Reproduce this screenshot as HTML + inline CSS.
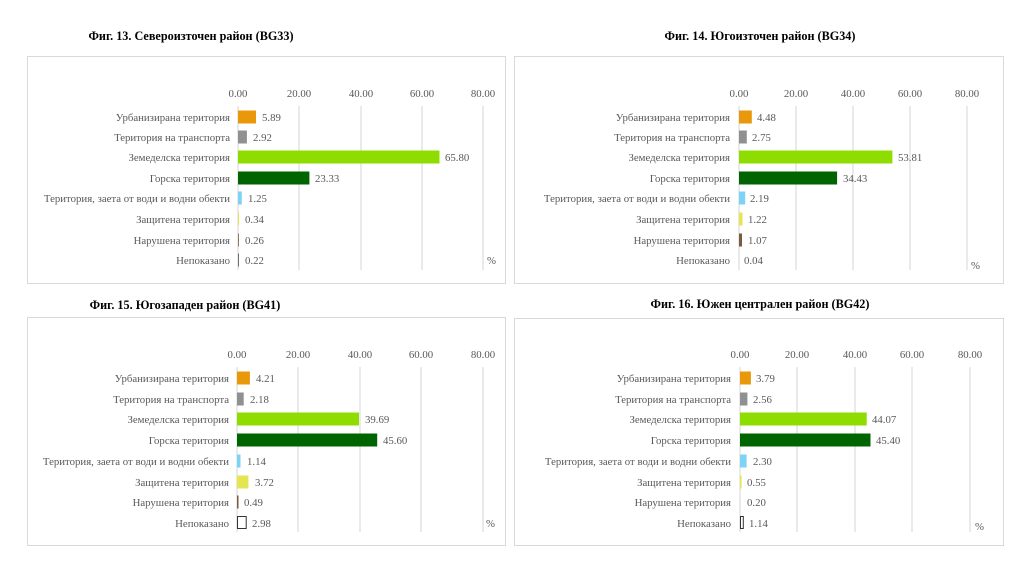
<!DOCTYPE html>
<html><head><meta charset="utf-8"><style>
html,body{margin:0;padding:0;background:#fff;}
svg{display:block;}
text{font-family:"Liberation Serif","DejaVu Serif",serif;}
.t{font-size:12.2px;font-weight:bold;fill:#000;}
.l{font-size:10.8px;fill:#595959;}
.g{stroke:#d4d4d4;stroke-width:1;}
</style></head><body>
<svg width="1026" height="577" viewBox="0 0 1026 577" xmlns="http://www.w3.org/2000/svg">
<rect width="1026" height="577" fill="#fff"/>
<!-- Panel 1 -->
<text class="t" x="191" y="40" text-anchor="middle">Фиг. 13. Североизточен район (BG33)</text>
<rect x="27.5" y="56.5" width="478" height="227" fill="none" stroke="#d9d9d9"/>
<g class="g"><line x1="299" y1="106" x2="299" y2="270"/><line x1="361" y1="106" x2="361" y2="270"/><line x1="422" y1="106" x2="422" y2="270"/><line x1="483" y1="106" x2="483" y2="270"/><line x1="238" y1="106" x2="238" y2="270"/></g>
<g class="l" text-anchor="middle"><text x="238" y="97">0.00</text><text x="299" y="97">20.00</text><text x="361" y="97">40.00</text><text x="422" y="97">60.00</text><text x="483" y="97">80.00</text></g>
<g class="l" text-anchor="end"><text x="230" y="121">Урбанизирана територия</text><text x="230" y="141">Територия на транспорта</text><text x="230" y="161">Земеделска територия</text><text x="230" y="182">Горска територия</text><text x="230" y="202">Територия, заета от води и водни обекти</text><text x="230" y="223">Защитена територия</text><text x="230" y="244">Нарушена територия</text><text x="230" y="264">Непоказано</text></g>
<rect x="238" y="110.5" width="18" height="13" fill="#E8980A"/><rect x="238" y="130.5" width="8.9" height="13" fill="#909090"/><rect x="238" y="150.5" width="201.5" height="13" fill="#8EDC00"/><rect x="238" y="171.5" width="71.4" height="13" fill="#006400"/><rect x="238" y="191.5" width="3.8" height="13" fill="#7DD3F5"/><rect x="238" y="212.5" width="1" height="13" fill="#E5E550"/><rect x="238" y="233.5" width="0.8" height="13" fill="#7a5a40"/><rect x="238" y="253.5" width="0.7" height="13" fill="#333"/>
<g class="l"><text x="262" y="121">5.89</text><text x="253" y="141">2.92</text><text x="445" y="161">65.80</text><text x="315" y="182">23.33</text><text x="248" y="202">1.25</text><text x="245" y="223">0.34</text><text x="245" y="244">0.26</text><text x="245" y="264">0.22</text><text x="487" y="264">%</text></g>
<!-- Panel 2 -->
<text class="t" x="760" y="40" text-anchor="middle">Фиг. 14. Югоизточен район (BG34)</text>
<rect x="514.5" y="56.5" width="489" height="227" fill="none" stroke="#d9d9d9"/>
<g class="g"><line x1="796" y1="106" x2="796" y2="270"/><line x1="853" y1="106" x2="853" y2="270"/><line x1="910" y1="106" x2="910" y2="270"/><line x1="967" y1="106" x2="967" y2="270"/><line x1="739" y1="106" x2="739" y2="270"/></g>
<g class="l" text-anchor="middle"><text x="739" y="97">0.00</text><text x="796" y="97">20.00</text><text x="853" y="97">40.00</text><text x="910" y="97">60.00</text><text x="967" y="97">80.00</text></g>
<g class="l" text-anchor="end"><text x="730" y="121">Урбанизирана територия</text><text x="730" y="141">Територия на транспорта</text><text x="730" y="161">Земеделска територия</text><text x="730" y="182">Горска територия</text><text x="730" y="202">Територия, заета от води и водни обекти</text><text x="730" y="223">Защитена територия</text><text x="730" y="244">Нарушена територия</text><text x="730" y="264">Непоказано</text></g>
<rect x="739" y="110.5" width="12.8" height="13" fill="#E8980A"/><rect x="739" y="130.5" width="7.8" height="13" fill="#909090"/><rect x="739" y="150.5" width="153.4" height="13" fill="#8EDC00"/><rect x="739" y="171.5" width="98.1" height="13" fill="#006400"/><rect x="739" y="191.5" width="6.2" height="13" fill="#7DD3F5"/><rect x="739" y="212.5" width="3.5" height="13" fill="#E5E550"/><rect x="739" y="233.5" width="3" height="13" fill="#7a5a40"/>
<g class="l"><text x="757" y="121">4.48</text><text x="752" y="141">2.75</text><text x="898" y="161">53.81</text><text x="843" y="182">34.43</text><text x="750" y="202">2.19</text><text x="748" y="223">1.22</text><text x="748" y="244">1.07</text><text x="744" y="264">0.04</text><text x="971" y="269">%</text></g>
<!-- Panel 3 -->
<text class="t" x="185" y="309" text-anchor="middle">Фиг. 15. Югозападен район (BG41)</text>
<rect x="27.5" y="317.5" width="478" height="228" fill="none" stroke="#d9d9d9"/>
<g class="g"><line x1="298" y1="367" x2="298" y2="532"/><line x1="360" y1="367" x2="360" y2="532"/><line x1="421" y1="367" x2="421" y2="532"/><line x1="483" y1="367" x2="483" y2="532"/><line x1="237" y1="367" x2="237" y2="532"/></g>
<g class="l" text-anchor="middle"><text x="237" y="358">0.00</text><text x="298" y="358">20.00</text><text x="360" y="358">40.00</text><text x="421" y="358">60.00</text><text x="483" y="358">80.00</text></g>
<g class="l" text-anchor="end"><text x="229" y="382">Урбанизирана територия</text><text x="229" y="403">Територия на транспорта</text><text x="229" y="423">Земеделска територия</text><text x="229" y="444">Горска територия</text><text x="229" y="465">Територия, заета от води и водни обекти</text><text x="229" y="486">Защитена територия</text><text x="229" y="506">Нарушена територия</text><text x="229" y="527">Непоказано</text></g>
<rect x="237" y="371.5" width="12.9" height="13" fill="#E8980A"/><rect x="237" y="392.5" width="6.7" height="13" fill="#909090"/><rect x="237" y="412.5" width="122" height="13" fill="#8EDC00"/><rect x="237" y="433.5" width="140.2" height="13" fill="#006400"/><rect x="237" y="454.5" width="3.5" height="13" fill="#7DD3F5"/><rect x="237" y="475.5" width="11.4" height="13" fill="#E5E550"/><rect x="237" y="495.5" width="1.5" height="13" fill="#7a5a40"/><rect x="237.5" y="516.5" width="8.7" height="12" fill="#fff" stroke="#333"/>
<g class="l"><text x="256" y="382">4.21</text><text x="250" y="403">2.18</text><text x="365" y="423">39.69</text><text x="383" y="444">45.60</text><text x="247" y="465">1.14</text><text x="255" y="486">3.72</text><text x="244" y="506">0.49</text><text x="252" y="527">2.98</text><text x="486" y="527">%</text></g>
<!-- Panel 4 -->
<text class="t" x="760" y="308" text-anchor="middle">Фиг. 16. Южен централен район (BG42)</text>
<rect x="514.5" y="318.5" width="489" height="227" fill="none" stroke="#d9d9d9"/>
<g class="g"><line x1="797" y1="367" x2="797" y2="532"/><line x1="855" y1="367" x2="855" y2="532"/><line x1="912" y1="367" x2="912" y2="532"/><line x1="970" y1="367" x2="970" y2="532"/><line x1="740" y1="367" x2="740" y2="532"/></g>
<g class="l" text-anchor="middle"><text x="740" y="358">0.00</text><text x="797" y="358">20.00</text><text x="855" y="358">40.00</text><text x="912" y="358">60.00</text><text x="970" y="358">80.00</text></g>
<g class="l" text-anchor="end"><text x="731" y="382">Урбанизирана територия</text><text x="731" y="403">Територия на транспорта</text><text x="731" y="423">Земеделска територия</text><text x="731" y="444">Горска територия</text><text x="731" y="465">Територия, заета от води и водни обекти</text><text x="731" y="486">Защитена територия</text><text x="731" y="506">Нарушена територия</text><text x="731" y="527">Непоказано</text></g>
<rect x="740" y="371.5" width="10.9" height="13" fill="#E8980A"/><rect x="740" y="392.5" width="7.4" height="13" fill="#909090"/><rect x="740" y="412.5" width="126.7" height="13" fill="#8EDC00"/><rect x="740" y="433.5" width="130.5" height="13" fill="#006400"/><rect x="740" y="454.5" width="6.6" height="13" fill="#7DD3F5"/><rect x="740" y="475.5" width="1.6" height="13" fill="#E5E550"/><rect x="740.5" y="516.5" width="2.8" height="12" fill="#fff" stroke="#333"/>
<g class="l"><text x="756" y="382">3.79</text><text x="753" y="403">2.56</text><text x="872" y="423">44.07</text><text x="876" y="444">45.40</text><text x="753" y="465">2.30</text><text x="747" y="486">0.55</text><text x="747" y="506">0.20</text><text x="749" y="527">1.14</text><text x="975" y="530">%</text></g>
</svg>
</body></html>
